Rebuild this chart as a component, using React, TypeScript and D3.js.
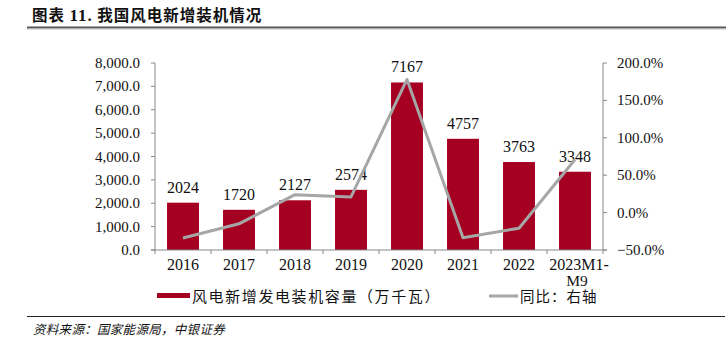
import React from "react";
import * as d3 from "d3";

const categories = ["2016", "2017", "2018", "2019", "2020", "2021", "2022", "2023M1-M9"];
const capacity = [2024, 1720, 2127, 2574, 7167, 4757, 3763, 3348];
const yoy = [-0.34, -0.15, 0.24, 0.21, 1.78, -0.336, -0.209, 0.71];
const leftTicks = [0, 1000, 2000, 3000, 4000, 5000, 6000, 7000, 8000];
const rightTicks = [-0.5, 0, 0.5, 1.0, 1.5, 2.0];

const W = 726, H = 344;
const X0 = 155, X1 = 603, YT = 63, YB = 250;
const BAR = "#A50021";
const LINE = "#A6A6A6";
const NUM_FONT = "'Liberation Serif', 'Times New Roman', serif";
const CJK_FONT = "'Noto Sans CJK SC', sans-serif";

export default function App() {
  const x = d3.scaleBand<string>().domain(categories).range([X0, X1]).paddingInner(0.43).paddingOuter(0.215);
  const xb = d3.scaleBand<string>().domain(categories).range([X0, X1]);
  const yL = d3.scaleLinear().domain([0, 8000]).range([YB, YT]);
  const yR = d3.scaleLinear().domain([-0.5, 2.0]).range([YB, YT]);
  const fmtL = d3.format(",.1f");
  const fmtR = (v: number) => d3.format(".1f")(v * 100) + "%";
  const line = d3
    .line<number>()
    .x((_, i) => (xb(categories[i]) as number) + xb.bandwidth() / 2)
    .y((d) => yR(d));

  return (
    <svg width={W} height={H} style={{ position: "absolute", left: 0, top: 0, background: "#fff" }}>
      {/* title */}
      <text x={32} y={21} fontFamily={CJK_FONT} fontWeight="bold" fontSize={15.5} letterSpacing={1} fill="#111">
        图表 <tspan fontFamily={NUM_FONT} fontSize={17}>11.</tspan> 我国风电新增装机情况
      </text>
      <line x1={27} x2={726} y1={27.5} y2={27.5} stroke="#555" strokeWidth={2} />
      <line x1={27} x2={726} y1={29} y2={29} stroke="#bbb" strokeWidth={1} />

      {/* bars */}
      {capacity.map((v, i) => (
        <rect
          key={"b" + i}
          x={x(categories[i])}
          y={yL(v)}
          width={x.bandwidth()}
          height={YB - yL(v)}
          fill={BAR}
        />
      ))}
      {capacity.map((v, i) => (
        <text
          key={"l" + i}
          x={(x(categories[i]) as number) + x.bandwidth() / 2}
          y={yL(v) - 10}
          textAnchor="middle"
          fontFamily={NUM_FONT}
          fontSize={16}
          fill="#111"
        >
          {v}
        </text>
      ))}

      {/* line */}
      <path d={line(yoy) || ""} fill="none" stroke={LINE} strokeWidth={3} strokeLinejoin="round" />

      {/* left axis */}
      <line x1={X0} x2={X0} y1={YT} y2={YB} stroke="#888" />
      {leftTicks.map((t) => (
        <g key={"lt" + t}>
          <line x1={X0 - 4} x2={X0} y1={yL(t)} y2={yL(t)} stroke="#888" />
          <text x={140} y={yL(t) + 5} textAnchor="end" fontFamily={NUM_FONT} fontSize={15} fill="#111">
            {fmtL(t)}
          </text>
        </g>
      ))}

      {/* right axis */}
      <line x1={X1} x2={X1} y1={YT} y2={YB} stroke="#888" />
      {rightTicks.map((t) => (
        <g key={"rt" + t}>
          <line x1={X1} x2={X1 + 4} y1={yR(t)} y2={yR(t)} stroke="#888" />
          <text x={617} y={yR(t) + 5} textAnchor="start" fontFamily={NUM_FONT} fontSize={15} fill="#111">
            {fmtR(t)}
          </text>
        </g>
      ))}

      {/* x axis */}
      <line x1={X0 - 4} x2={X1 + 4} y1={YB} y2={YB} stroke="#888" />
      {categories.map((c, i) => (
        <line
          key={"xt" + i}
          x1={xb(c) as number}
          x2={xb(c) as number}
          y1={YB}
          y2={YB + 4}
          stroke="#888"
        />
      ))}
      <line x1={X1} x2={X1} y1={YB} y2={YB + 4} stroke="#888" />
      {categories.map((c) => {
        const cx = (xb(c) as number) + xb.bandwidth() / 2;
        if (c.length > 4) {
          return (
            <g key={"xl" + c}>
              <text x={cx + 4} y={270} textAnchor="middle" fontFamily={NUM_FONT} fontSize={16} fill="#111">
                {c.slice(0, 7)}
              </text>
              <text x={cx + 2} y={286} textAnchor="middle" fontFamily={NUM_FONT} fontSize={15.5} fill="#111">
                {c.slice(7)}
              </text>
            </g>
          );
        }
        return (
          <text key={"xl" + c} x={cx} y={270} textAnchor="middle" fontFamily={NUM_FONT} fontSize={16} fill="#111">
            {c}
          </text>
        );
      })}

      {/* legend */}
      <rect x={157} y={293} width={33} height={5} fill={BAR} />
      <text x={192} y={301.5} fontFamily={CJK_FONT} fontSize={15} letterSpacing={1.6} fill="#111">
        风电新增发电装机容量（万千瓦）
      </text>
      <line x1={489} x2={518} y1={296} y2={296} stroke={LINE} strokeWidth={3} />
      <text x={520} y={302} fontFamily={CJK_FONT} fontSize={14.5} letterSpacing={1} fill="#111">
        同比：右轴
      </text>

      {/* source */}
      <line x1={27} x2={725} y1={316.5} y2={316.5} stroke="#222" strokeWidth={1} />
      <text x={33} y={334} fontFamily={CJK_FONT} fontSize={12.5} letterSpacing={0.3} fontStyle="italic" fill="#111">
        资料来源：国家能源局，中银证券
      </text>
    </svg>
  );
}
